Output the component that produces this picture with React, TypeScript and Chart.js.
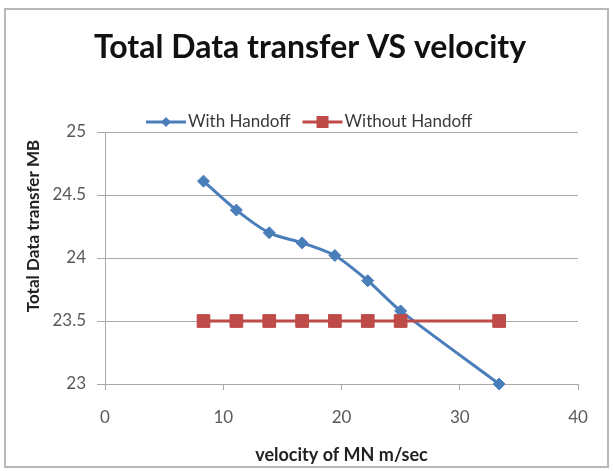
import React, { useEffect, useRef } from "react";
import { Chart, registerables } from "chart.js";

Chart.register(...registerables);

// Mobile node velocity (m/s) and total data transferred (MB)
const velocity = [8.33, 11.11, 13.89, 16.67, 19.44, 22.22, 25, 33.33];
const withHandoff = [24.61, 24.38, 24.2, 24.12, 24.02, 23.82, 23.58, 23.0];
const withoutHandoff = [23.5, 23.5, 23.5, 23.5, 23.5, 23.5, 23.5, 23.5];

const chartTitle = "Total Data transfer VS velocity";
const xTitle = "velocity of MN m/sec";
const yTitle = "Total Data transfer MB";
const seriesNames = ["With Handoff", "Without Handoff"];

const BLUE = "#4a7ebb";
const RED = "#be4b48";
const GRID = "#a9a9a9";
const FONT = "Lato, 'Open Sans', sans-serif";

const W = 613;
const H = 471;

const decorations = {
  id: "decorations",
  afterDraw(chart: any) {
    const ctx: CanvasRenderingContext2D = chart.ctx;
    const area = chart.chartArea;
    ctx.save();

    // outer frame
    ctx.strokeStyle = "#b8b8b8";
    ctx.lineWidth = 2;
    ctx.strokeRect(5, 9, 603, 458);

    // main title
    ctx.fillStyle = "#111";
    ctx.font = `bold 32px ${FONT}`;
    ctx.textAlign = "center";
    ctx.textBaseline = "alphabetic";
    ctx.fillText(chartTitle, 310, 58);

    // x axis title
    ctx.font = `bold 18px ${FONT}`;
    ctx.fillStyle = "#222";
    ctx.textBaseline = "middle";
    ctx.fillText(xTitle, (area.left + area.right) / 2, 455);

    // y axis title
    ctx.font = `bold 17px ${FONT}`;
    ctx.save();
    ctx.translate(34, 226);
    ctx.rotate(-Math.PI / 2);
    ctx.fillText(yTitle, 0, 0);
    ctx.restore();

    // legend
    ctx.font = `17px ${FONT}`;
    ctx.textAlign = "left";
    ctx.textBaseline = "middle";
    const ly = 122;
    let x = 146;
    const styles = [
      { color: BLUE, shape: "diamond" },
      { color: RED, shape: "square" },
    ];
    seriesNames.forEach((name, i) => {
      const st = styles[i];
      ctx.strokeStyle = st.color;
      ctx.lineWidth = 3;
      ctx.beginPath();
      ctx.moveTo(x, ly);
      ctx.lineTo(x + 40, ly);
      ctx.stroke();
      ctx.fillStyle = st.color;
      const cx = x + 20;
      if (st.shape === "diamond") {
        ctx.beginPath();
        ctx.moveTo(cx, ly - 5);
        ctx.lineTo(cx + 5, ly);
        ctx.lineTo(cx, ly + 5);
        ctx.lineTo(cx - 5, ly);
        ctx.closePath();
        ctx.fill();
      } else {
        ctx.fillRect(cx - 6, ly - 6, 12, 12);
      }
      ctx.fillStyle = "#3a3a3a";
      ctx.fillText(name, x + 42, ly);
      x += 42 + ctx.measureText(name).width + 12;
    });

    ctx.restore();
  },
};

export default function App() {
  const ref = useRef<HTMLCanvasElement | null>(null);

  useEffect(() => {
    if (!ref.current) return;
    const chart = new Chart(ref.current, {
      type: "line",
      data: {
        datasets: [
          {
            label: seriesNames[0],
            data: velocity.map((v, i) => ({ x: v, y: withHandoff[i] })),
            borderColor: BLUE,
            backgroundColor: BLUE,
            borderWidth: 3,
            pointStyle: "rectRot",
            pointRadius: 6,
            pointBorderWidth: 1,
            tension: 0.25,
            clip: false,
            order: 1,
          },
          {
            label: seriesNames[1],
            data: velocity.map((v, i) => ({ x: v, y: withoutHandoff[i] })),
            borderColor: RED,
            backgroundColor: RED,
            borderWidth: 3,
            pointStyle: "rect",
            pointRadius: 9,
            pointBorderWidth: 1,
            tension: 0,
            clip: false,
            order: 0,
          },
        ],
      },
      options: {
        responsive: false,
        animation: false,
        events: [],
        layout: { padding: { top: 132, right: W - 578, left: 0, bottom: 0 } },
        plugins: {
          legend: { display: false },
          title: { display: false },
          tooltip: { enabled: false },
        },
        scales: {
          x: {
            type: "linear",
            position: "bottom",
            min: 0,
            max: 40,
            afterFit: (s: any) => {
              s.height = H - 384;
            },
            ticks: {
              stepSize: 10,
              padding: 17,
              color: "#595959",
              font: { family: FONT, size: 17 },
            },
            grid: {
              drawOnChartArea: false,
              drawTicks: true,
              tickLength: 6,
              color: GRID,
            },
            border: { display: true, color: GRID, width: 1 },
          },
          y: {
            min: 23,
            max: 25,
            afterFit: (s: any) => {
              s.width = 105;
            },
            ticks: {
              stepSize: 0.5,
              padding: 11,
              color: "#595959",
              font: { family: FONT, size: 17 },
              callback: (v: any) => String(Number(v)),
            },
            grid: {
              color: GRID,
              tickLength: 8,
              lineWidth: 1,
            },
            border: { display: true, color: GRID, width: 1 },
          },
        },
      },
      plugins: [decorations],
    });
    return () => chart.destroy();
  }, []);

  return (
    <div style={{ position: "fixed", left: 0, top: 0, width: W, height: H, background: "#fff" }}>
      <canvas ref={ref} width={W} height={H} style={{ display: "block" }} />
    </div>
  );
}
